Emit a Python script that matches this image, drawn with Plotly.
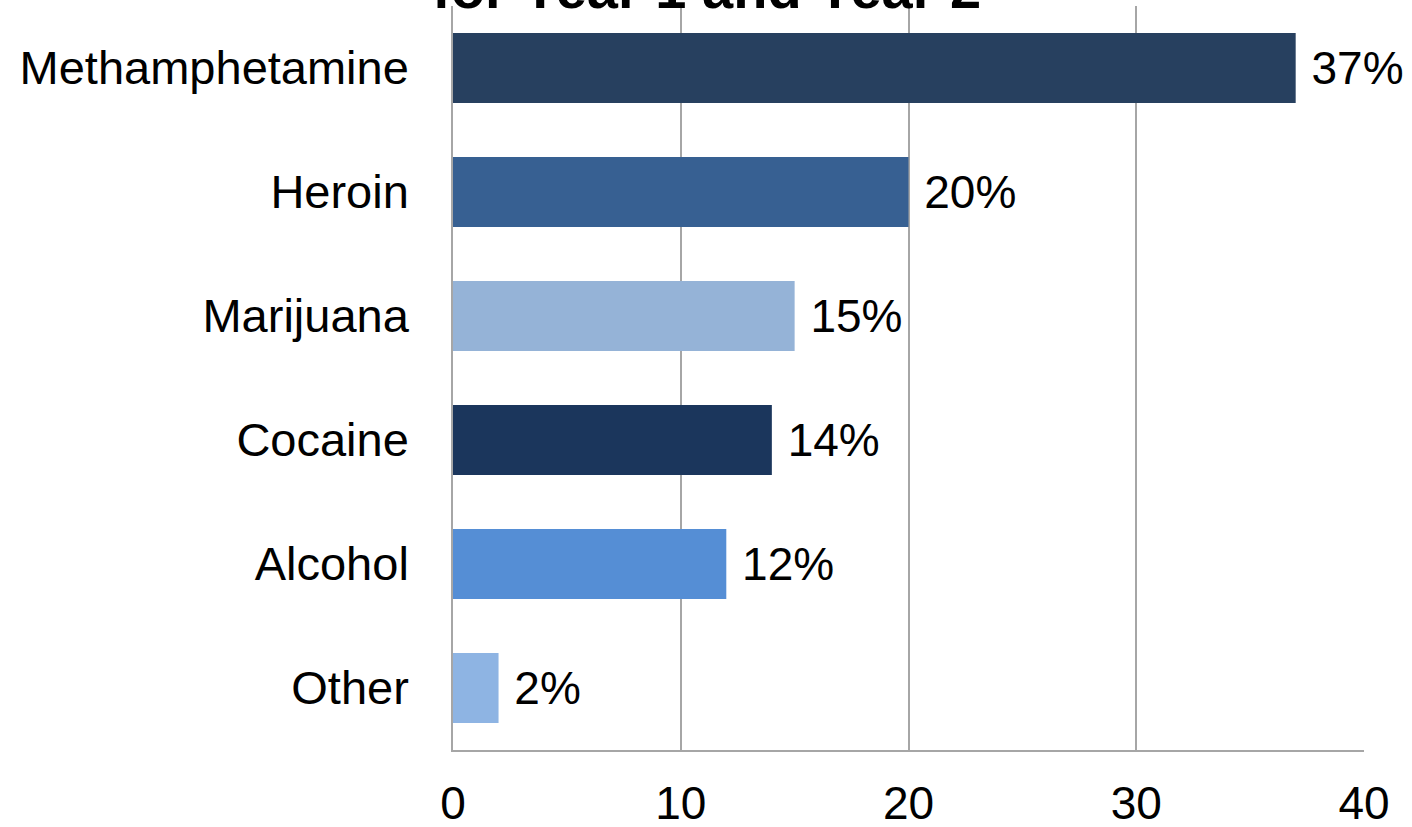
import plotly.graph_objects as go

# data
drugs = ["Methamphetamine", "Heroin", "Marijuana", "Cocaine", "Alcohol", "Other"]
percent = [37, 20, 15, 14, 12, 2]
bar_colors = ["#27405F", "#376092", "#95B3D7", "#1B365C", "#558ED5", "#8EB4E3"]
x_ticks = [0, 10, 20, 30, 40]
title_text = "<b>Primary Drug of Choice<br>for Year 1 and Year 2</b>"

W, H = 1412, 827
L, R, T, B = 453, 48, 6, 77

fig = go.Figure(
    go.Bar(
        x=percent,
        y=drugs,
        orientation="h",
        marker=dict(color=bar_colors, line=dict(width=0)),
        width=0.565,
        text=["\u00a0" + f"{p}%" for p in percent],
        textposition="outside",
        textfont=dict(size=46, color="#000000"),
        cliponaxis=False,
    )
)

fig.update_layout(
    width=W,
    height=H,
    paper_bgcolor="white",
    plot_bgcolor="white",
    font=dict(family="Liberation Sans, Arial, sans-serif", color="#000000"),
    margin=dict(l=L, r=R, t=T, b=B),
    showlegend=False,
    # title runs off the top edge, as in the source slide; centred on the page
    annotations=[
        dict(
            text=title_text,
            x=(W / 2 - L) / (W - L - R),
            xref="paper",
            y=1,
            yref="paper",
            xanchor="center",
            yanchor="bottom",
            yshift=-16,
            showarrow=False,
            font=dict(size=56, color="#000000"),
        )
    ],
)

fig.update_xaxes(
    range=[0, 40],
    tickvals=x_ticks,
    tickfont=dict(size=46),
    showgrid=True,
    gridcolor="#A6A6A6",
    gridwidth=1.5,
    showline=True,
    linecolor="#A6A6A6",
    linewidth=1.5,
    zeroline=False,
    ticks="",
    ticklabelstandoff=12,
    automargin=False,
)
fig.update_yaxes(
    categoryorder="array",
    categoryarray=drugs,
    autorange="reversed",
    tickfont=dict(size=47),
    showline=True,
    linecolor="#A6A6A6",
    linewidth=1.5,
    showgrid=False,
    ticks="",
    ticklabelstandoff=33,
    automargin=False,
)

fig.write_html(
    "out.html",
    config={"displayModeBar": False},
    post_script="document.body.style.margin='0';",
)
